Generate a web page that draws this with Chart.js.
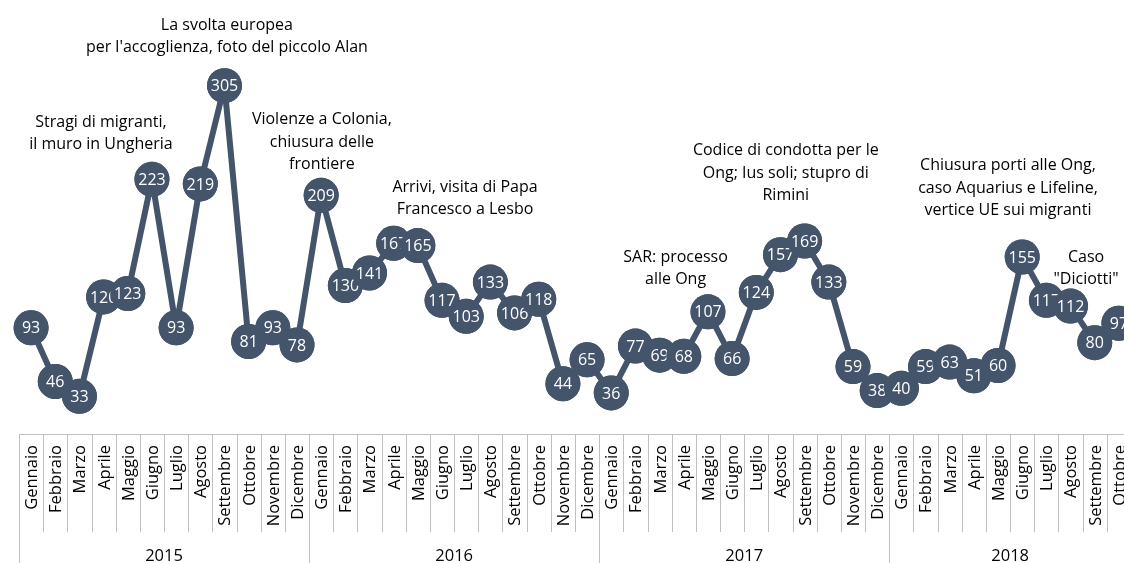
<!DOCTYPE html>
<html>
<head>
<meta charset="utf-8">
<script src="https://cdn.jsdelivr.net/npm/chart.js@4.4.1/dist/chart.umd.min.js"></script>
<style>
  html, body { margin: 0; padding: 0; background: #fff; overflow: hidden; }
  #wrap { width: 1124px; height: 563px; overflow: hidden; position: relative; }
  canvas { position: absolute; left: 0; top: 0; }
</style>
</head>
<body>
<div id="wrap"><canvas id="c" width="1140" height="563"></canvas></div>
<script>
// ---- data ----
const monthNames = ['Gennaio','Febbraio','Marzo','Aprile','Maggio','Giugno','Luglio','Agosto','Settembre','Ottobre','Novembre','Dicembre'];
const years = ['2015','2016','2017','2018'];
const monthsPerYear = [12, 12, 12, 10];
const values = [
  93, 46, 33, 120, 123, 223, 93, 219, 305, 81, 93, 78,
  209, 130, 141, 167, 165, 117, 103, 133, 106, 118, 44, 65,
  36, 77, 69, 68, 107, 66, 124, 157, 169, 133, 59, 38,
  40, 59, 63, 51, 60, 155, 117, 112, 80, 97
];
const annotationTexts = [
  ['Stragi di migranti,', 'il muro in Ungheria'],
  ['La svolta europea', "per l'accoglienza, foto del piccolo Alan"],
  ['Violenze a Colonia,', 'chiusura delle', 'frontiere'],
  ['Arrivi, visita di Papa', 'Francesco a Lesbo'],
  ['SAR: processo', 'alle Ong'],
  ['Codice di condotta per le', 'Ong; Ius soli; stupro di', 'Rimini'],
  ['Chiusura porti alle Ong,', 'caso Aquarius e Lifeline,', 'vertice UE sui migranti'],
  ['Caso', '"Diciotti"']
];
// annotation anchors (category index, value-axis position of first baseline)
const annotationX = [2.89, 8.10, 12.03, 17.95, 26.66, 31.22, 40.41, 43.64];
const annotationY = [269, 354, 271, 212, 151, 244, 231, 151];

// build labels
const labels = [];
monthsPerYear.forEach((n) => {
  for (let m = 0; m < n; m++) labels.push(monthNames[m]);
});

const COLOR = '#44546A';
const FONT = '"Open Sans", "DejaVu Sans", sans-serif';

const overlay = {
  id: 'overlay',
  afterDatasetsDraw(chart) {
    const ctx = chart.ctx;
    const meta = chart.getDatasetMeta(0);
    ctx.save();
    // redraw points in order with value labels so later circles cover earlier labels
    meta.data.forEach((el, i) => {
      el.draw(ctx);
      ctx.fillStyle = '#ffffff';
      ctx.font = '16px ' + FONT;
      ctx.textAlign = 'center';
      ctx.textBaseline = 'alphabetic';
      ctx.fillText(String(values[i]), el.x, el.y + 5.7);
    });
    ctx.restore();
  },
  afterDraw(chart) {
    const ctx = chart.ctx;
    const x = chart.scales.x, y = chart.scales.y;
    const n = labels.length;
    const w = (x.right - x.left) / n;
    const axisY = y.getPixelForValue(0);
    const H = chart.height;
    ctx.save();
    // annotations
    ctx.fillStyle = '#000';
    ctx.font = '16px ' + FONT;
    ctx.textAlign = 'center';
    ctx.textBaseline = 'alphabetic';
    annotationTexts.forEach((lines, k) => {
      const cx = x.getPixelForValue(annotationX[k]);
      const by = y.getPixelForValue(annotationY[k]);
      lines.forEach((t, j) => ctx.fillText(t, cx, by + j * 22.5));
    });
    // axis lines
    ctx.strokeStyle = '#bfbfbf';
    ctx.lineWidth = 1;
    ctx.beginPath();
    ctx.moveTo(x.left, Math.round(axisY) + 0.5);
    ctx.lineTo(x.right, Math.round(axisY) + 0.5);
    let idx = 0;
    const yearStarts = [];
    monthsPerYear.forEach(c => { yearStarts.push(idx); idx += c; });
    for (let k = 0; k <= n; k++) {
      const bx = Math.round(x.getPixelForValue(k) - w / 2) + 0.5;
      const isYear = yearStarts.includes(k) || k === n;
      ctx.moveTo(bx, Math.round(axisY));
      ctx.lineTo(bx, isYear ? H : axisY + 98);
    }
    ctx.stroke();
    // month labels
    ctx.fillStyle = '#000';
    ctx.font = '16.5px ' + FONT;
    ctx.textAlign = 'right';
    ctx.textBaseline = 'alphabetic';
    labels.forEach((t, i) => {
      const cx = x.getPixelForValue(i);
      ctx.save();
      ctx.translate(cx + 5.9, axisY + 11);
      ctx.rotate(-Math.PI / 2);
      ctx.fillText(t, 0, 0);
      ctx.restore();
    });
    // year labels
    ctx.font = '16.5px ' + FONT;
    ctx.textAlign = 'center';
    years.forEach((t, yi) => {
      const s = yearStarts[yi];
      const e = yi < years.length - 1 ? yearStarts[yi + 1] : n;
      const cx = (x.getPixelForValue(s) + x.getPixelForValue(e - 1)) / 2;
      ctx.fillText(t, cx, H - 2);
    });
    ctx.restore();
  }
};

new Chart(document.getElementById('c'), {
  type: 'line',
  data: {
    labels: labels,
    datasets: [{
      data: values,
      borderColor: COLOR,
      backgroundColor: COLOR,
      borderWidth: 6,
      tension: 0,
      pointRadius: 17.5,
      pointBorderWidth: 0,
      pointBackgroundColor: COLOR,
      pointBorderColor: COLOR,
      clip: false
    }]
  },
  options: {
    responsive: false,
    devicePixelRatio: 1,
    animation: false,
    events: [],
    layout: { autoPadding: false, padding: { left: 19, right: 9, top: 0, bottom: 129 } },
    plugins: { legend: { display: false }, tooltip: { enabled: false } },
    scales: {
      x: { type: 'category', offset: true, display: false },
      y: { type: 'linear', min: 0, max: 380, display: false }
    }
  },
  plugins: [overlay]
});
</script>
</body>
</html>
